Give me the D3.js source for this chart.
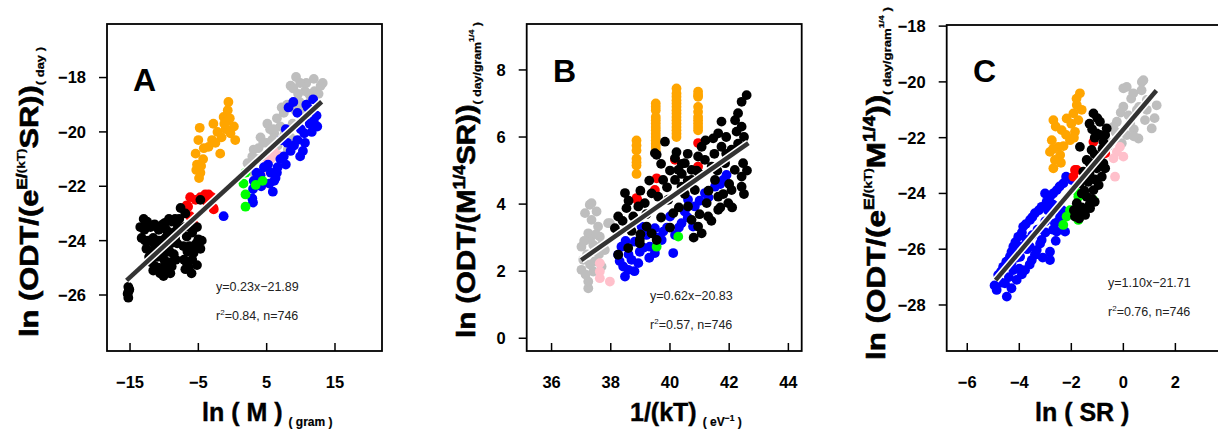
<!DOCTYPE html>
<html>
<head>
<meta charset="utf-8">
<script src="https://cdn.jsdelivr.net/npm/d3@7"></script>
<style>
  body { margin: 0; background: #fff; }
  svg { display: block; font-family: "Liberation Sans", Arial, sans-serif; }
</style>
</head>
<body>
<svg id="chart" width="1218" height="436"></svg>
<script>
// ---- panel A : ln(M) ----
const aXTicks = [-15, -5, 5, 15];
const aYTicks = [-18, -20, -22, -24, -26];
const aBlack = [[-13.0,-23.2],[-12.9,-23.6],[-13.3,-23.9],[-12.6,-24.3],[-12.0,-23.5],[-11.6,-23.9],[-11.2,-24.2],
  [-10.8,-23.6],[-10.4,-24.0],[-9.9,-23.35],[-9.4,-23.7],[-8.9,-23.3],[-8.4,-23.2],[-8.6,-23.7],[-9.0,-24.1],
  [-9.5,-24.4],[-10.0,-24.7],[-10.5,-24.5],[-11.1,-24.6],[-11.3,-24.95],[-10.7,-25.0],[-10.1,-25.0],[-9.6,-25.1],
  [-8.9,-24.95],[-8.6,-24.5],[-8.1,-24.1],[-10.1,-25.3],[-9.2,-24.8],[-11.8,-24.4],[-12.3,-24.0],[-8.0,-23.5],
  [-9.8,-23.9],[-10.9,-24.3],[-6.7,-23.85],[-5.9,-23.7],[-5.0,-23.95],[-4.7,-24.3],[-5.7,-24.45],[-6.7,-24.8],
  [-6.9,-25.05],[-5.9,-24.7],[-7.2,-24.2],[-6.3,-24.2],[-5.3,-24.1],[-6.4,-25.0],[-7.0,-23.5],[-6.9,-23.0],
  [-4.7,-22.5],[-15.25,-25.7],[-15.35,-25.95],[-15.25,-26.1],[-15.1,-25.8],[-15.2,-25.85],
  [-12.5,-23.3],[-11.4,-23.4],[-10.2,-23.4],[-9.3,-23.2],[-11.9,-24.8],[-12.2,-24.6],[-10.3,-24.3],[-9.7,-23.6],
  [-8.3,-24.7],[-8.4,-23.9],[-9.1,-25.2],[-10.6,-25.2],[-11.6,-25.1],[-7.8,-23.2],[-6.2,-23.5],[-5.2,-23.5],
  [-4.5,-24.0],[-5.2,-24.9],[-6.0,-25.2],[-6.6,-24.4],[-7.1,-24.7],[-5.5,-24.3],[-13.5,-23.5],[-12.8,-24.0],
  [-11.5,-24.1],[-10.8,-24.0],[-9.2,-24.4],[-7.6,-22.8]];
const aRed = [[-6.2,-22.4],[-6.7,-22.7],[-5.4,-22.5],[-4.0,-22.3],[-3.0,-22.4],[-2.75,-22.85],[-5.7,-23.4],
  [-6.2,-23.1],[-3.5,-22.3],[-2.8,-22.8],[-5.9,-23.3],[-6.5,-22.75],[-4.7,-22.4],[-3.7,-22.6]];
const aOrange = [[-4.8,-19.85],[-5.4,-20.8],[-4.7,-21.5],[-4.3,-21.0],[-3.5,-20.55],[-2.2,-20.0],[-1.8,-20.8],
  [-2.8,-19.7],[-1.3,-19.45],[-0.6,-18.9],[-0.7,-19.2],[0.2,-19.8],[0.4,-20.3],[-0.3,-20.05],[-5.2,-21.2],
  [-4.9,-21.7],[-5.0,-20.3],[-3.0,-20.3],[-1.0,-19.9],[-0.8,-19.6],[-1.6,-20.2],[-2.5,-20.4],[-5.3,-21.4],
  [-4.6,-21.25],[-4.2,-20.6],[-1.2,-19.7],[-0.4,-19.5]];
const aGray = [[9.3,-17.98],[11.9,-18.05],[13.2,-18.2],[8.5,-18.3],[11.2,-18.6],[11.5,-18.8],[7.5,-19.3],[5.1,-19.7],
  [4.1,-20.2],[3.1,-20.65],[2.2,-21.15],[4.6,-20.9],[6.6,-20.5],[8.1,-20.65],[8.5,-20.2],[6.1,-20.05],[3.1,-21.5],
  [10.0,-19.2],[4.5,-20.4],[5.8,-20.3],[7.0,-19.8],[6.5,-19.5],[8.8,-19.7],[9.8,-18.9],[10.6,-18.5],[12.0,-18.5],
  [3.6,-21.0],[2.6,-21.4],[7.6,-20.1],[5.5,-19.9],[9.6,-18.6],[10.8,-18.2],[12.6,-18.6],[11.0,-19.5],[9.2,-19.2],
  [8.0,-19.0],[7.2,-19.1],[6.0,-19.9],[5.0,-20.4],[3.8,-20.6],[2.9,-20.9],[9.9,-18.2],[12.9,-18.3],[8.9,-18.4]];
const aBlue = [[11.9,-19.6],[10.5,-20.05],[9.0,-20.5],[10.3,-20.7],[7.5,-20.9],[6.6,-21.3],[5.6,-21.5],[6.1,-21.8],
  [5.9,-22.2],[3.1,-21.8],[2.9,-22.45],[-1.3,-23.1],[8.2,-19.1],[9.5,-19.3],[11.0,-19.1],[7.8,-19.9],[4.1,-21.6],
  [4.6,-21.3],[11.3,-19.7],[12.3,-19.4],[10.0,-19.9],[9.5,-20.3],[8.5,-20.7],[7.0,-21.0],[5.2,-21.2],[3.5,-21.5],
  [3.0,-22.1],[4.2,-22.0],[6.3,-21.7],[7.2,-20.3],[8.9,-18.9],[10.8,-19.0],[11.8,-18.8],[12.4,-19.8],[11.6,-20.0],
  [10.6,-20.4],[9.9,-20.9],[8.0,-20.4],[7.8,-21.2],[6.5,-21.5],[5.4,-21.9],[3.0,-22.6]];
const aPink = [[6.6,-20.85],[5.1,-21.15],[4.6,-21.45],[4.4,-21.95],[5.6,-21.0],[6.0,-20.7]];
const aGreen = [[1.9,-21.5],[1.6,-21.9],[1.9,-22.3],[1.9,-22.75],[4.4,-21.8],[3.4,-21.95]];
const aFit = [[-15.5,-25.46],[13.05,-18.89]];
const aEquation = "y=0.23x\u221221.89";
const aR2 = "0.84";

// ---- panel B : 1/(kT) ----
const bXTicks = [36, 38, 40, 42, 44];
const bYTicks = [0, 2, 4, 6, 8];
const bGray = [[37.29,3.98],[37.52,3.78],[37.13,3.73],[37.35,3.53],[37.91,3.43],[37.57,3.33],[37.24,3.13],
  [37.63,3.03],[37.01,2.73],[37.41,2.78],[37.8,2.63],[37.07,2.34],[37.46,2.29],[37.01,2.04],[37.41,1.99],
  [37.69,2.14],[37.24,1.49],[37.24,1.69],[37.35,4.03],[37.97,3.43],[37.2,2.5],[37.6,2.5],[37.3,2.95],
  [37.1,2.9],[37.5,3.1],[37.7,2.8],[37.3,2.2],[37.15,1.9]];
const bPink = [[37.63,1.99],[37.63,1.79],[37.97,1.69],[37.63,2.24]];
const bOrange = [[38.87,5.9],[38.87,5.75],[38.87,5.6],[38.87,5.35],[38.87,5.25],[38.87,5.15],[38.87,4.9],
  [39.52,7.0],[39.52,6.9],[39.52,6.8],[39.52,6.6],[39.52,6.5],[39.52,6.4],[39.52,6.3],[39.52,6.2],[39.52,6.1],
  [39.52,6.0],[39.52,5.9],[39.52,5.8],[39.52,5.7],[39.52,5.6],
  [40.22,7.45],[40.22,7.3],[40.22,7.2],[40.22,7.1],[40.22,7.0],[40.22,6.9],[40.22,6.8],[40.22,6.7],[40.22,6.6],
  [40.22,6.5],[40.22,6.4],[40.22,6.3],[40.22,6.2],[40.22,6.1],[40.22,6.0],
  [40.95,7.35],[40.95,7.25],[40.95,7.2],[40.95,6.9],[40.95,6.75],[40.95,6.6],[40.95,6.5],[40.95,6.4],
  [40.95,6.3],[40.95,6.2]];
const bRed = [[40.95,5.82],[38.87,4.18],[39.49,4.42],[39.55,4.77],[40.95,5.12],[40.17,5.32],[38.9,4.12]];
const bGreen = [[39.55,2.73],[40.28,3.03]];
const bBlue = [[38.36,2.73],[38.25,2.49],[38.42,2.14],[38.48,1.84],[38.7,2.34],[38.98,2.58],[38.81,2.88],
  [39.21,3.08],[39.49,3.28],[39.49,2.54],[39.77,3.18],[40.11,2.54],[40.17,3.08],[40.0,3.63],[40.5,3.78],
  [40.61,4.13],[40.84,3.93],[40.78,3.33],[41.18,4.33],[41.52,4.52],[41.8,4.72],[41.91,4.87],[39.04,3.33],
  [39.32,2.73],[38.59,2.04],[38.93,2.24],[40.39,3.43],[39.72,2.93],[38.3,2.3],[38.6,2.5],[38.8,2.0],
  [39.1,2.7],[39.6,3.0],[39.9,3.3],[40.3,3.3],[40.6,3.6],[41.0,4.1],[41.3,4.2],[41.7,4.6],[38.5,2.9],[39.3,2.4]];
const bBlack = [[42.59,7.25],[42.42,7.05],[42.3,6.71],[41.74,6.46],[42.42,6.31],[42.25,6.16],[41.63,6.11],
  [41.46,5.96],[39.83,5.86],[39.49,5.52],[41.07,5.71],[41.18,5.32],[40.95,5.42],[41.74,5.71],[42.08,5.62],
  [42.47,5.22],[42.42,4.82],[42.42,4.52],[42.08,4.42],[41.97,4.03],[41.63,3.83],[41.29,3.63],[40.95,3.33],
  [40.73,3.53],[41.07,3.13],[40.61,3.93],[40.39,4.52],[40.73,4.72],[40.28,5.02],[40.17,4.72],[39.94,4.13],
  [40.11,3.73],[39.77,4.72],[39.6,4.22],[39.38,4.32],[39.15,4.03],[38.93,3.93],[38.76,3.63],[38.53,3.88],
  [38.25,3.63],[39.21,3.33],[38.98,2.83],[39.38,3.13],[38.25,2.49],[38.59,2.69],[38.98,2.93],[39.55,2.93],
  [38.48,4.33],[39.55,5.47],[41.41,5.12],[41.52,4.72],[41.86,5.22],[42.19,5.02],[40.5,5.22],[40.73,5.02],
  [41.63,4.22],[41.24,4.03],[40.84,4.42],[40.17,5.37],[40.22,5.55],[38.14,3.28],[41.0,4.9],[41.9,5.5],
  [42.3,5.8],[40.6,4.7],[39.9,4.5],[39.2,3.7],[41.3,4.4],[40.0,3.3],[38.7,3.2],[40.4,5.2],[41.7,3.9],[42.0,4.6],
  [42.5,6.0],[42.2,6.5],[41.9,6.0],[41.5,5.5],[41.2,5.9],[40.9,5.0],[40.6,5.5],[40.0,5.0],[39.7,5.2],[39.3,4.7],
  [39.0,4.4],[38.6,4.1],[38.4,3.5],[42.6,5.0],[42.5,4.3],[41.4,3.5],[41.0,3.7],[40.8,3.0],[40.3,3.9],[39.7,3.6],
  [39.0,3.1],[42.1,3.9],[41.8,4.3],[41.6,5.0],[40.5,4.3],[40.4,4.9]];
const bFit = [[37.0,2.33],[42.65,5.82]];
const bEquation = "y=0.62x\u221220.83";
const bR2 = "0.57";

// ---- panel C : ln(SR) ----
const cXTicks = [-6, -4, -2, 0, 2];
const cYTicks = [-18, -20, -22, -24, -26, -28];
const cGray = [[0.71,-20.0],[0.13,-20.18],[0.38,-20.41],[0.9,-20.65],[0.0,-20.89],[0.52,-21.01],[1.09,-21.67],
  [-0.25,-21.43],[0.26,-21.49],[0.83,-21.37],[-0.38,-21.61],[0.13,-21.91],[0.58,-22.03],[-0.06,-22.2],
  [-0.51,-22.2],[1.28,-20.84],[0.77,-19.94],[0.0,-20.23],[0.6,-20.9],[-0.1,-21.1],[0.4,-21.7],
  [0.3,-20.6],[0.7,-20.3],[0.9,-21.0],[0.2,-21.2],[-0.3,-21.8],[0.4,-21.95],[1.2,-21.3]];
const cPink = [[-0.25,-22.51],[0.0,-22.68],[-0.38,-22.74],[-0.13,-22.33],[-0.32,-23.4]];
const cOrange = [[-1.67,-20.41],[-1.79,-20.83],[-1.92,-21.13],[-1.73,-21.37],[-2.18,-21.31],[-2.69,-21.37],
  [-2.37,-21.73],[-1.86,-21.79],[-2.05,-22.09],[-2.75,-22.09],[-2.5,-22.33],[-2.82,-22.51],[-2.43,-22.62],
  [-2.63,-22.8],[-2.69,-23.1],[-2.0,-21.5],[-1.9,-22.0],[-2.3,-22.3],[-2.6,-21.6],[-2.2,-21.9],[-1.8,-20.6],
  [-1.6,-21.0],[-2.7,-22.4],[-2.4,-22.9]];
const cRed = [[-1.15,-22.15],[-1.79,-23.16],[-1.92,-23.4],[-0.7,-22.56],[-1.86,-23.16]];
const cGreen = [[-1.73,-24.12],[-2.05,-24.6],[-2.18,-24.83],[-1.73,-24.95],[-1.15,-24.24],[-2.31,-25.13],[-1.86,-23.88]];
const cBlue = [[-1.98,-23.52],[-2.31,-23.64],[-2.56,-23.88],[-2.82,-24.12],[-3.14,-24.48],[-3.4,-24.71],
  [-3.59,-24.95],[-3.85,-25.19],[-4.04,-25.55],[-4.23,-25.91],[-4.36,-26.27],[-4.62,-26.63],[-4.81,-26.92],
  [-4.87,-27.46],[-4.48,-27.7],[-4.55,-27.22],[-4.1,-27.1],[-3.78,-26.75],[-3.52,-26.39],[-3.33,-26.03],
  [-2.82,-26.09],[-2.82,-26.39],[-3.14,-25.67],[-2.56,-25.37],[-2.63,-25.07],[-2.43,-24.83],[-2.24,-25.37],
  [-3.72,-25.67],[-3.97,-26.27],[-4.23,-26.75],[-3.01,-24.0],[-4.3,-26.5],[-4.0,-26.0],[-3.7,-26.0],[-3.5,-25.5],
  [-3.3,-25.3],[-3.0,-25.0],[-2.9,-24.6],[-2.7,-24.4],[-3.6,-25.9],[-4.0,-26.7],[-4.4,-27.0],[-3.2,-25.8],
  [-4.7,-27.2],[-2.6,-25.7],[-2.2,-23.4],[-2.45,-23.75],[-2.7,-24.0],[-2.95,-24.3],[-3.25,-24.6],[-3.5,-24.85],
  [-3.75,-25.1],[-3.9,-25.4],[-4.15,-25.75],[-4.3,-26.1],[-4.5,-26.45],[-4.7,-26.8],[-4.95,-27.3],[-4.3,-27.4],
  [-3.9,-26.9],[-3.6,-26.55],[-3.4,-26.2],[-3.1,-26.3],[-3.0,-25.4],[-2.7,-25.3],[-2.5,-25.0],[-2.35,-24.6],
  [-3.9,-25.9],[-4.1,-26.3]];
const cBlack = [[-1.15,-21.13],[-0.9,-21.43],[-0.64,-21.67],[-1.02,-21.85],[-0.77,-22.15],[-1.22,-22.44],
  [-0.9,-22.68],[-1.41,-22.8],[-1.02,-23.1],[-1.54,-23.22],[-0.83,-23.4],[-1.35,-23.58],[-1.67,-23.64],
  [-1.15,-23.88],[-1.41,-24.12],[-1.79,-24.35],[-1.28,-24.53],[-1.73,-24.71],[-1.47,-24.77],[-1.86,-24.83],
  [-0.77,-22.92],[-1.67,-22.33],[-1.3,-21.5],[-1.1,-22.0],[-0.8,-22.4],[-1.3,-22.9],[-1.1,-23.5],[-1.5,-23.9],
  [-1.2,-24.2],[-1.6,-24.5],[-1.0,-23.0],[-0.9,-21.9],[-1.0,-21.3],[-0.7,-21.9],[-1.2,-21.7],[-0.6,-22.3],
  [-1.1,-22.6],[-0.7,-23.1],[-1.3,-23.3],[-0.95,-23.7],[-1.4,-23.4],[-1.6,-24.0],[-1.3,-24.4],[-1.5,-24.6],
  [-1.9,-24.6],[-1.1,-24.3],[-1.7,-24.9]];
const cFit = [[-4.91,-27.11],[1.27,-20.31]];
const cEquation = "y=1.10x\u221221.71";
const cR2 = "0.76";

const sampleSize = "746";
const minus = v => String(v).replace("-", "\u2212");

const colors = {gray: "#bebebe", pink: "#ffc0cb", orange: "#ffa500", blue: "#0000ff",
                green: "#00ff00", red: "#ff0000", black: "#000000"};
const drawOrder = ["gray", "pink", "orange", "blue", "green", "red", "black"];

const panels = [
  {label: "A", left: 107, right: 382, top: 24, bottom: 351,
   xDomain: [-18.37, 21.88], yDomain: [-28.06, -16.03], xTicks: aXTicks, yTicks: aYTicks,
   groups: {gray: aGray, pink: aPink, orange: aOrange, blue: aBlue, green: aGreen, red: aRed, black: aBlack},
   fit: aFit, eq: aEquation, r2: aR2, eqX: 216, eqY: 291, labX: 133, labY: 91,
   yTitleX: 38, yTitleY: 337, yTitleLen: 290,
   yTitle: [["ln (ODT/(e", 1, 0], ["E/", 0.56, -0.42], ["(kT)", 0.44, -0.5], ["SR))", 1, 0], ["( day )", 0.42, 0.24]],
   xTitle: "ln ( M )", xTitleX: 202, xSub: [["( gram )", 0]]},
  {label: "B", left: 526.7, right: 801.7, top: 24, bottom: 351,
   xDomain: [35.16, 44.45], yDomain: [-0.38, 9.37], xTicks: bXTicks, yTicks: bYTicks,
   groups: {gray: bGray, pink: bPink, orange: bOrange, blue: bBlue, green: bGreen, red: bRed, black: bBlack},
   fit: bFit, eq: bEquation, r2: bR2, eqX: 650, eqY: 300, labX: 553, labY: 82,
   yTitleX: 475, yTitleY: 338, yTitleLen: 316,
   yTitle: [["ln (ODT/(M", 1, 0], ["1/4", 0.6, -0.4], ["SR))", 1, 0], ["( day/gram", 0.42, 0.24], ["1/4", 0.3, -0.02], [" )", 0.42, 0.24]],
   xTitle: "1/(kT)", xTitleX: 630, xSub: [["( eV", 0], ["\u22121", -5], [" )", 0]]},
  {label: "C", left: 946.7, right: 1221.7, top: 25, bottom: 351,
   xDomain: [-6.79, 3.78], yDomain: [-29.65, -17.96], xTicks: cXTicks, yTicks: cYTicks,
   groups: {gray: cGray, pink: cPink, orange: cOrange, blue: cBlue, green: cGreen, red: cRed, black: cBlack},
   fit: cFit, eq: cEquation, r2: cR2, eqX: 1108, eqY: 287, labX: 973, labY: 82,
   yTitleX: 885, yTitleY: 360, yTitleLen: 353,
   yTitle: [["ln (ODT/(e", 1, 0], ["E/", 0.56, -0.42], ["(kT)", 0.44, -0.5], ["M", 1, 0], ["1/4", 0.6, -0.4], ["))", 1, 0], ["( day/gram", 0.42, 0.24], ["1/4", 0.3, -0.02], [" )", 0.42, 0.24]],
   xTitle: "ln ( SR )", xTitleX: 1035, xSub: null}
];

const svg = d3.select("#chart");
const baseSize = 26;

panels.forEach(p => {
  const x = d3.scaleLinear().domain(p.xDomain).range([p.left, p.right]);
  const y = d3.scaleLinear().domain(p.yDomain).range([p.bottom, p.top]);
  const g = svg.append("g");

  // points
  drawOrder.forEach(k => {
    g.append("g").selectAll("circle").data(p.groups[k])
      .enter().append("circle")
      .attr("cx", d => x(d[0]))
      .attr("cy", d => y(d[1]))
      .attr("r", 4.9)
      .attr("fill", colors[k]);
  });

  // regression line with white edge
  const line = d3.line().x(d => x(d[0])).y(d => y(d[1]));
  g.append("path").attr("d", line(p.fit)).attr("stroke", "#fff").attr("stroke-width", 7.5).attr("fill", "none");
  g.append("path").attr("d", line(p.fit)).attr("stroke", "#333").attr("stroke-width", 4.5).attr("fill", "none");

  // frame
  g.append("rect")
    .attr("x", p.left).attr("y", p.top)
    .attr("width", p.right - p.left).attr("height", p.bottom - p.top)
    .attr("fill", "none").attr("stroke", "#000").attr("stroke-width", 1.8);

  // x ticks (pointing up into frame)
  g.selectAll(".xt").data(p.xTicks).enter().append("line")
    .attr("x1", d => x(d)).attr("x2", d => x(d))
    .attr("y1", p.bottom).attr("y2", p.bottom - 8)
    .attr("stroke", "#000").attr("stroke-width", 1.5);
  g.selectAll(".xl").data(p.xTicks).enter().append("text")
    .attr("x", d => x(d)).attr("y", 388)
    .attr("text-anchor", "middle")
    .attr("font-size", 16.5).attr("font-weight", "bold")
    .text(d => minus(d));

  // y ticks (pointing out)
  g.selectAll(".yt").data(p.yTicks).enter().append("line")
    .attr("x1", p.left - 8).attr("x2", p.left)
    .attr("y1", d => y(d)).attr("y2", d => y(d))
    .attr("stroke", "#000").attr("stroke-width", 1.5);
  g.selectAll(".yl").data(p.yTicks).enter().append("text")
    .attr("x", p.left - 21).attr("y", d => y(d))
    .attr("dy", "0.36em")
    .attr("text-anchor", "end")
    .attr("font-size", 16.5).attr("font-weight", "bold")
    .text(d => minus(d));

  // panel letter
  g.append("text").attr("x", p.labX).attr("y", p.labY)
    .attr("font-size", 32).attr("font-weight", "bold").text(p.label);

  // regression text
  g.append("text").attr("x", p.eqX).attr("y", p.eqY)
    .attr("font-size", 12.5).attr("fill", "#222").text(p.eq);
  const r2 = g.append("text").attr("x", p.eqX).attr("y", p.eqY + 29)
    .attr("font-size", 12.5).attr("fill", "#222");
  r2.append("tspan").text("r");
  r2.append("tspan").attr("font-size", 8).attr("dy", -5).text("2");
  r2.append("tspan").attr("dy", 5).text("=" + p.r2 + ", n=" + sampleSize);

  // x title
  const xt = g.append("text").attr("x", p.xTitleX).attr("y", 421)
    .attr("font-weight", "bold").attr("font-size", 25)
    .attr("stroke", "#000").attr("stroke-width", 0.4);
  xt.append("tspan").text(p.xTitle);
  if (p.xSub) {
    let prev = 0;
    p.xSub.forEach((s, i) => {
      const shift = s[1] + 5;
      xt.append("tspan")
        .attr("font-size", s[1] < 0 ? 8.5 : 12)
        .attr("stroke-width", 0.2)
        .attr("dx", i === 0 ? 6 : 0)
        .attr("dy", shift - prev)
        .text(s[0]);
      prev = shift;
    });
  }

  // y title (rotated, stretched to the measured length)
  const yt = g.append("text").attr("font-weight", "bold").attr("font-size", baseSize)
    .attr("stroke", "#000").attr("stroke-width", 0.6);
  let prev = 0;
  p.yTitle.forEach(s => {
    const shift = s[2] * baseSize;
    yt.append("tspan").attr("font-size", baseSize * s[1])
      .attr("stroke-width", s[1] < 0.5 ? 0.25 : 0.6)
      .attr("dy", shift - prev).text(s[0]);
    prev = shift;
  });
  const len = yt.node().getComputedTextLength();
  yt.attr("transform", `translate(${p.yTitleX},${p.yTitleY}) rotate(-90) scale(${p.yTitleLen / len},1)`);
});
</script>
</body>
</html>
